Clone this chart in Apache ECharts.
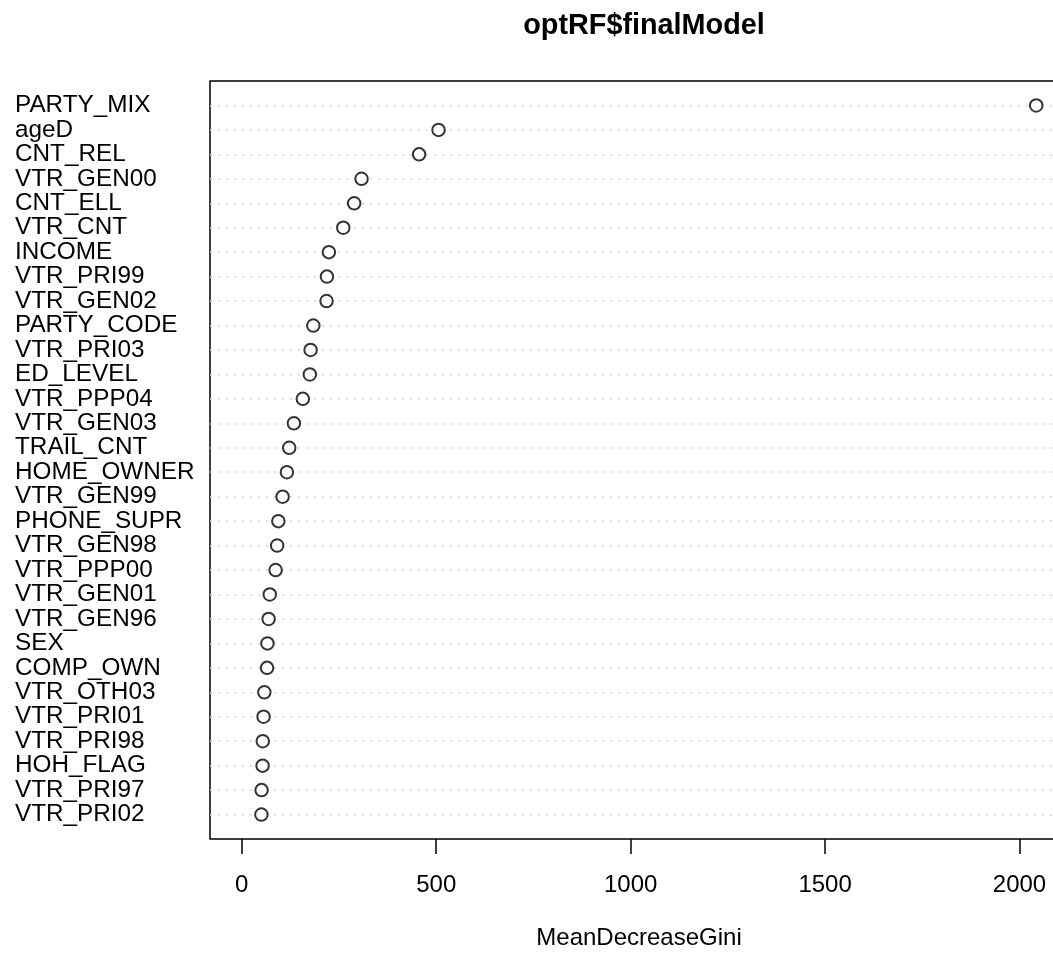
<!DOCTYPE html>
<html>
<head>
<meta charset="utf-8">
<script src="https://cdn.jsdelivr.net/npm/echarts@6/dist/echarts.min.js"></script>
<style>
  html, body { margin: 0; padding: 0; background: #fff; overflow: hidden; width: 1053px; height: 956px; }
  #chart { width: 1068px; height: 956px; }
</style>
</head>
<body>
<div id="chart"></div>
<script>
// Variables, top to bottom as drawn
const variables = [
  "PARTY_MIX", "ageD", "CNT_REL", "VTR_GEN00", "CNT_ELL", "VTR_CNT", "INCOME",
  "VTR_PRI99", "VTR_GEN02", "PARTY_CODE", "VTR_PRI03", "ED_LEVEL", "VTR_PPP04",
  "VTR_GEN03", "TRAIL_CNT", "HOME_OWNER", "VTR_GEN99", "PHONE_SUPR", "VTR_GEN98",
  "VTR_PPP00", "VTR_GEN01", "VTR_GEN96", "SEX", "COMP_OWN", "VTR_OTH03",
  "VTR_PRI01", "VTR_PRI98", "HOH_FLAG", "VTR_PRI97", "VTR_PRI02"
];
// MeanDecreaseGini values, same order
const meanDecreaseGini = [
  2043, 506, 456, 308, 289, 261, 224,
  219, 218, 184, 177, 175, 157,
  134, 122, 116, 105, 94, 91,
  87, 72, 69, 66, 65, 58,
  56, 54, 53.5, 51, 50.5
];
const xTicks = [0, 500, 1000, 1500, 2000];
const titleText = "optRF$finalModel";
const xLabel = "MeanDecreaseGini";

const n = variables.length;
const font = "'Liberation Sans', Arial, Helvetica, sans-serif";
const vmax = Math.max(...meanDecreaseGini);
const xmin = 0 - 0.04 * vmax;
const xmax = vmax + 0.04 * vmax;

const rowValues = variables.map((_, i) => n - i);
const points = meanDecreaseGini.map((v, i) => [v, n - i]);

const chart = echarts.init(document.getElementById('chart'), null, { renderer: 'canvas' });
chart.setOption({
  backgroundColor: '#ffffff',
  animation: false,
  title: {
    text: titleText,
    left: 639,
    top: 7,
    textAlign: 'center',
    textStyle: { fontFamily: font, fontSize: 28.8, fontWeight: 'bold', color: '#000' }
  },
  grid: {
    left: 210, top: 81, right: 0, bottom: 117,
    show: true, borderColor: '#000', borderWidth: 1.5, backgroundColor: 'transparent'
  },
  xAxis: {
    type: 'value',
    min: xmin,
    max: xmax,
    name: xLabel,
    nameLocation: 'middle',
    nameGap: 87,
    nameTextStyle: { fontFamily: font, fontSize: 24, color: '#000' },
    axisLine: { show: false },
    axisTick: {
      show: true, customValues: xTicks, length: 15,
      lineStyle: { color: '#000', width: 1.5 }
    },
    axisLabel: {
      customValues: xTicks, margin: 34,
      formatter: (v) => String(v),
      fontFamily: font, fontSize: 24, color: '#000'
    },
    splitLine: { show: false }
  },
  yAxis: {
    type: 'value',
    min: 0,
    max: n + 1,
    interval: 1,
    axisLine: { show: false },
    axisTick: { show: false },
    axisLabel: {
      customValues: rowValues,
      formatter: (v) => variables[n - Math.round(v)] || '',
      align: 'left',
      margin: 195,
      fontFamily: font, fontSize: 24.3, color: '#000'
    },
    splitLine: {
      show: true,
      showMinLine: false,
      showMaxLine: false,
      lineStyle: { color: '#d3d3d3', width: 1.5, type: [2, 6] }
    }
  },
  series: [{
    type: 'scatter',
    data: points,
    symbol: 'emptyCircle',
    symbolSize: 12.5,
    itemStyle: { color: '#000', borderColor: '#000', borderWidth: 1.8 },
    silent: true,
    z: 5
  }]
});
</script>
</body>
</html>
